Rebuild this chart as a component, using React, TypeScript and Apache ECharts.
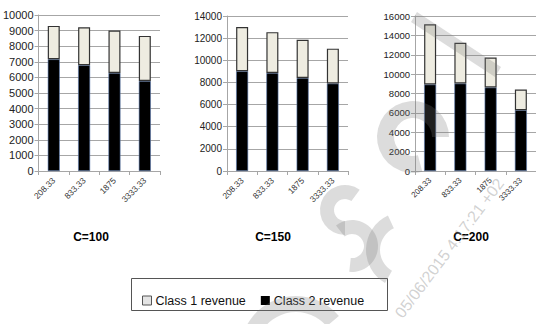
import React, { useEffect, useRef } from "react";
import * as echarts from "echarts";

const categories = ["208.33", "833.33", "1875", "3333.33"];
const panelTitles = ["C=100", "C=150", "C=200"];
const class1Revenue = [
  [2140, 2430, 2710, 2890],
  [4000, 3680, 3450, 3150],
  [6210, 4200, 3090, 2130],
];
const class2Revenue = [
  [7160, 6780, 6290, 5770],
  [9010, 8860, 8410, 7900],
  [8930, 9030, 8620, 6280],
];
const yMax = [10000, 14000, 16000];
const yInterval = [1000, 2000, 2000];
const seriesNames = ["Class 1 revenue", "Class 2 revenue"];
const watermarkText = "05/06/2015 4:17:21 +02";

const FONT = "Liberation Sans";
const WM = "rgba(120,120,120,0.26)";

export default function App() {
  const ref = useRef<HTMLDivElement>(null);
  useEffect(() => {
    if (!ref.current) return;
    const chart = echarts.init(ref.current, null, { renderer: "svg" });
    const grids = [
      { left: 37, top: 15, width: 123, height: 156 },
      { left: 227, top: 16, width: 121, height: 155 },
      { left: 415, top: 16, width: 122, height: 155 },
    ];
    const yFont = [11, 10, 9.5];
    const xFont = [8.5, 8.5, 8];
    const gridColor = "#a6a6a6";
    const xAxis = grids.map((_, i) => ({
      type: "category",
      gridIndex: i,
      data: categories,
      axisLine: { lineStyle: { color: gridColor, width: 1 } },
      axisTick: { show: true, length: 4, lineStyle: { color: gridColor } },
      axisLabel: {
        rotate: 45,
        fontFamily: FONT,
        fontSize: xFont[i],
        color: "#333",
        margin: 8,
        interval: 0,
      },
    }));
    const yAxis = grids.map((_, i) => ({
      type: "value",
      gridIndex: i,
      min: 0,
      max: yMax[i],
      interval: yInterval[i],
      axisLine: { show: true, lineStyle: { color: gridColor } },
      axisTick: { show: true, length: 4, lineStyle: { color: gridColor } },
      splitLine: { lineStyle: { color: gridColor, width: 1 } },
      axisLabel: {
        fontFamily: FONT,
        fontSize: yFont[i],
        color: "#222",
        margin: 5,
        formatter: (v: number) => String(v),
      },
    }));
    const series: any[] = [];
    grids.forEach((_, i) => {
      series.push({
        name: seriesNames[1],
        type: "bar",
        stack: "s" + i,
        xAxisIndex: i,
        yAxisIndex: i,
        barWidth: 12,
        data: class2Revenue[i],
        itemStyle: { color: "#000000", borderColor: "#5a7bb0", borderWidth: 0.6 },
      });
      series.push({
        name: seriesNames[0],
        type: "bar",
        stack: "s" + i,
        xAxisIndex: i,
        yAxisIndex: i,
        barWidth: 12,
        data: class1Revenue[i],
        itemStyle: { color: "#eeece1", borderColor: "#333333", borderWidth: 1.2 },
      });
    });
    const titleCenters = [91, 273, 471];
    const deg = (d: number) => (d * Math.PI) / 180;
    const ring = (cx: number, cy: number, r0: number, r: number, a0: number, a1: number, cw: boolean) => ({
      type: "sector",
      silent: true,
      z: 100,
      shape: { cx, cy, r0, r, startAngle: deg(a0), endAngle: deg(a1), clockwise: cw },
      style: { fill: WM, stroke: "none" },
    });
    chart.setOption({
      animation: false,
      backgroundColor: "#ffffff",
      grid: grids,
      xAxis,
      yAxis,
      series,
      title: panelTitles.map((t, i) => ({
        text: t,
        left: titleCenters[i],
        top: 231,
        textAlign: "center",
        padding: 0,
        textStyle: { fontFamily: FONT, fontSize: 12, fontWeight: "bold", color: "#000" },
      })),
      legend: {
        left: 142,
        top: 294,
        padding: 0,
        itemWidth: 9,
        itemHeight: 9,
        itemGap: 15,
        icon: "rect",
        data: [
          { name: seriesNames[0], itemStyle: { color: "#e4e4e4", borderColor: "#555", borderWidth: 1 } },
          { name: seriesNames[1], itemStyle: { color: "#000", borderWidth: 0 } },
        ],
        textStyle: { fontFamily: FONT, fontSize: 12.5, color: "#111", padding: [0, 0, 0, -1] },
      },
      graphic: [
        {
          type: "rect",
          shape: { x: 131.5, y: 278.5, width: 256, height: 32 },
          style: { fill: "none", stroke: "#555", lineWidth: 1 },
          silent: true,
        },
        {
          type: "polygon",
          silent: true,
          z: 100,
          shape: { points: [[417, 12], [501, 67], [495, 77], [411, 22]] },
          style: { fill: WM, stroke: "none" },
        },
        ring(413, 137, 19, 36, 75, 360, true),
        ring(345, 210, 11, 25, 306, 90, false),
        ring(352, 246, 12, 26, 232, 456, true),
        ring(296, 352, 40, 56, 205, 320, true),
        ring(404, 250, 24, 38, 120, 245, true),
        {
          type: "text",
          silent: true,
          z: 100,
          x: 392,
          y: 311,
          rotation: deg(53),
          style: {
            text: watermarkText,
            fontFamily: FONT,
            fontSize: 16,
            fill: "rgba(140,140,140,0.4)",
          },
        },
      ],
    });
    return () => chart.dispose();
  }, []);
  return (
    <div
      ref={ref}
      style={{ position: "fixed", left: 0, top: 0, width: 536, height: 324 }}
    />
  );
}
